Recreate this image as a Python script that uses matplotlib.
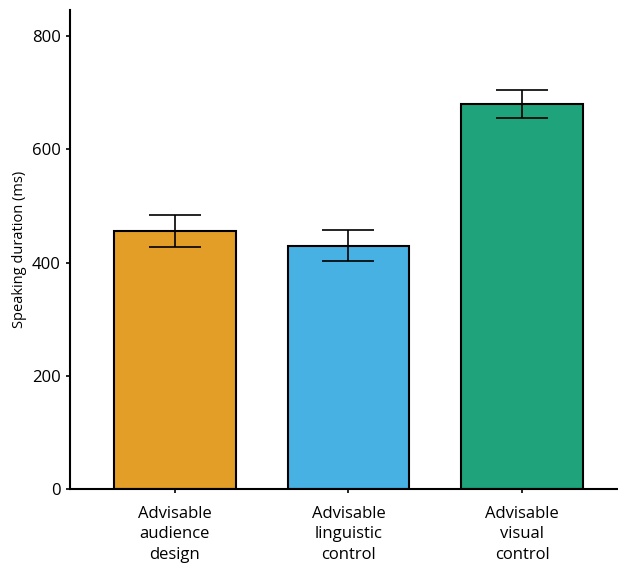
import matplotlib
matplotlib.use("Agg")
import matplotlib.pyplot as plt

categories = ["Advisable\naudience\ndesign", "Advisable\nlinguistic\ncontrol", "Advisable\nvisual\ncontrol"]
means = [456, 430, 680]
errors = [28, 27, 25]
colors = ["#E39E27", "#48B1E4", "#1EA37B"]

plt.rcParams['font.family'] = ['Open Sans', 'DejaVu Sans']

fig = plt.figure(figsize=(6.18, 5.69), dpi=100)
ax = fig.add_axes([0.1133, 0.1406, 0.885, 0.8418])

x = list(range(len(categories)))
ax.bar(x, means, width=0.7, color=colors, edgecolor="black", linewidth=1.5, zorder=2)
ax.errorbar(x, means, yerr=errors, fmt="none", ecolor="black", elinewidth=1.2,
            capsize=18.7, capthick=1.2, zorder=3)

ax.set_xlim(-0.603, 2.546)
ax.set_ylim(0, 846)
ax.set_yticks([0, 200, 400, 600, 800])
ax.set_xticks(x)
ax.set_xticklabels(categories, fontsize=12, linespacing=1.38)
ax.tick_params(axis='y', labelsize=12, length=3, width=1.2)
ax.tick_params(axis='x', length=3, width=1.2, pad=9)
ax.set_ylabel("Speaking duration (ms)", fontsize=10.5, labelpad=4)

for s in ["top", "right"]:
    ax.spines[s].set_visible(False)
for s in ["left", "bottom"]:
    ax.spines[s].set_linewidth(1.5)

fig.savefig("out.png", dpi=100)
